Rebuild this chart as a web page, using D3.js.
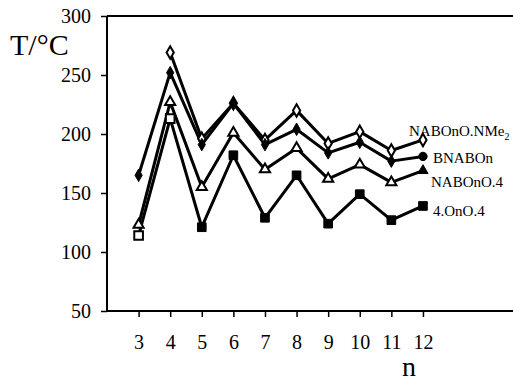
<!DOCTYPE html>
<html>
<head>
<meta charset="utf-8">
<script src="https://cdn.jsdelivr.net/npm/d3@7"></script>
<style>
  body { margin: 0; background: #fff; }
  svg, svg text { font-family: "Liberation Serif", "Times New Roman", "DejaVu Serif", serif !important; fill: #000; }
</style>
</head>
<body>
<svg id="chart" width="513" height="382"></svg>
<script>
const nValues = [3, 4, 5, 6, 7, 8, 9, 10, 11, 12];
const yTicks = [50, 100, 150, 200, 250, 300];

const nmeValues = [null, 269, 196, 226, 195, 220, 192, 202, 186, 195];
const bnaboValues = [165, 252, 191, 226, 191, 204, 184, 193, 177, 181];
const nabo4Values = [123, 227, 155, 201, 170, 188, 162, 174, 159, 169];
const ono4Values = [114, 213, 121, 182, 129, 165, 124, 149, 127, 139];

const seriesNames = ["NABOnO.NMe", "BNABOn", "NABOnO.4", "4.OnO.4"];

const serif = "'Liberation Serif', 'Times New Roman', serif";
const svg = d3.select("#chart");
const width = 513, height = 382;

const x = d3.scaleLinear().domain([2, 14.85]).range([107, 513]);
const y = d3.scaleLinear().domain([50, 300]).range([311, 16]);

// frame lines (left, top, bottom)
svg.append("line").attr("x1", 107).attr("x2", 107).attr("y1", y(300)).attr("y2", y(50))
  .attr("stroke", "#000").attr("stroke-width", 2);
svg.append("line").attr("x1", 107).attr("x2", width).attr("y1", y(300)).attr("y2", y(300))
  .attr("stroke", "#000").attr("stroke-width", 2);
svg.append("line").attr("x1", 107).attr("x2", width).attr("y1", y(50)).attr("y2", y(50))
  .attr("stroke", "#000").attr("stroke-width", 2);

// y axis
const yAxis = d3.axisLeft(y).tickValues(yTicks).tickSize(6).tickPadding(10);
const gy = svg.append("g").attr("transform", "translate(107,0)").call(yAxis)
  .attr("font-family", serif);
gy.select(".domain").remove();
gy.selectAll("line").attr("stroke-width", 1.5);
gy.selectAll("text").style("font-size", "20px").style("font-family", serif);

// x axis
const xAxis = d3.axisBottom(x).tickValues(nValues).tickSize(6).tickPadding(18);
const gx = svg.append("g").attr("transform", `translate(0,${y(50)})`).call(xAxis)
  .attr("font-family", serif);
gx.select(".domain").remove();
gx.selectAll("line").attr("stroke-width", 1.5);
gx.selectAll("text").style("font-size", "20px").style("font-family", serif);

svg.append("text").attr("x", 10).attr("y", 55).style("font-size", "30px")
  .style("font-family", serif).text("T/°C");
svg.append("text").attr("x", 409).attr("y", 376).attr("text-anchor", "middle")
  .style("font-size", "28px").style("font-family", serif).text("n");

// series
const allSeries = [nmeValues, bnaboValues, nabo4Values, ono4Values];

const line = d3.line()
  .defined(d => d.v != null)
  .x(d => x(d.n))
  .y(d => y(d.v));

allSeries.forEach(vals => {
  const pts = nValues.map((n, i) => ({ n: n, v: vals[i] }));
  svg.append("path").datum(pts).attr("d", line)
    .attr("fill", "none").attr("stroke", "#000").attr("stroke-width", 3)
    .attr("stroke-linejoin", "round");
});

// marker styles per series
const diamond = d3.symbol().type(d3.symbolDiamond).size(45);
const circle = d3.symbol().type(d3.symbolCircle).size(55);
const triangle = d3.symbol().type(d3.symbolTriangle).size(45);
const square = d3.symbol().type(d3.symbolSquare).size(75);

const markerStyle = [
  { shape: () => diamond(), filled: () => false },
  { shape: (i) => (i === 9 ? circle() : diamond()), filled: () => true },
  { shape: () => triangle(), filled: (i) => i === 9 },
  { shape: () => square(), filled: (i) => i >= 2 },
];

allSeries.forEach((vals, s) => {
  const st = markerStyle[s];
  nValues.forEach((n, i) => {
    if (vals[i] == null) return;
    const f = st.filled(i);
    svg.append("path")
      .attr("d", st.shape(i))
      .attr("transform", `translate(${x(n)},${y(vals[i])})`)
      .attr("fill", f ? "#000" : "#fff")
      .attr("stroke", "#000")
      .attr("stroke-width", f ? 1 : 2);
  });
});

// labels at line ends
const labelPos = [[409, 136], [433, 163], [431, 187], [433, 216]];
seriesNames.forEach((name, i) => {
  const t = svg.append("text").attr("x", labelPos[i][0]).attr("y", labelPos[i][1])
    .style("font-size", "15px").style("font-family", serif).text(name);
  if (i === 0) {
    t.append("tspan").attr("dy", 4).style("font-size", "10px").text("2");
  }
});
</script>
</body>
</html>
